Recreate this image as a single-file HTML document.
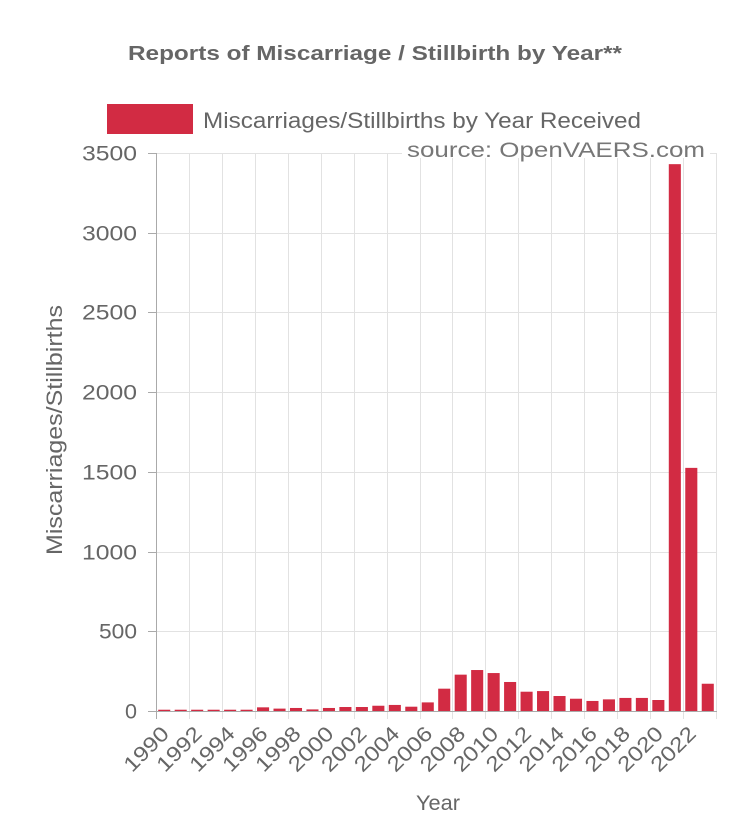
<!DOCTYPE html>
<html><head><style>
body{margin:0;background:#fff;}
svg text{font-family:"Liberation Sans",sans-serif;}
</style></head><body>
<svg width="750" height="825" xmlns="http://www.w3.org/2000/svg">
<text x="128" y="60" font-size="20" font-weight="bold" fill="#666" textLength="494" lengthAdjust="spacingAndGlyphs">Reports of Miscarriage / Stillbirth by Year**</text>
<rect x="107" y="104" width="86" height="30" fill="#d22b43"/>
<text x="203" y="128" font-size="22" fill="#666" textLength="438" lengthAdjust="spacingAndGlyphs">Miscarriages/Stillbirths by Year Received</text>
<g id="grid" stroke="#e2e2e2" stroke-width="1"></g>
<g id="bars" fill="#d22b43"></g>
<g id="yl" font-size="21" fill="#666" text-anchor="end"></g>
<g id="xl" font-size="21" fill="#666" text-anchor="end"></g>
<line x1="156.5" y1="153" x2="156.5" y2="719" stroke="#aaa"/>
<line x1="148" y1="711.5" x2="717" y2="711.5" stroke="#aaa"/>
<rect x="402" y="136" width="308" height="22" fill="#fff"/>
<text x="407" y="157" font-size="21" fill="#777" textLength="298" lengthAdjust="spacingAndGlyphs">source: OpenVAERS.com</text>
<text transform="translate(62,430) rotate(-90)" text-anchor="middle" font-size="22" fill="#666" textLength="250" lengthAdjust="spacingAndGlyphs">Miscarriages/Stillbirths</text>
<text x="438" y="810" text-anchor="middle" font-size="21" fill="#666" textLength="44" lengthAdjust="spacingAndGlyphs">Year</text>
</svg>
<script>
var vals=[8,8,8,8,8,8,23,15,19,10,19,25,25,33,38,27,54,140,228,257,238,182,121,125,94,77,63,73,82,82,69,3430,1525,171];
var ns="http://www.w3.org/2000/svg",x0=156,cw=(716-156)/34,y0=711,s=558/3500;
var g=document.getElementById("grid"),b=document.getElementById("bars"),yl=document.getElementById("yl"),xl=document.getElementById("xl");
function el(t,a,p){var e=document.createElementNS(ns,t);for(var k in a)e.setAttribute(k,a[k]);p.appendChild(e);return e;}
for(var v=0;v<=3500;v+=500){var y=Math.round(y0-v*s)+0.5;if(v>0)el("line",{x1:156,x2:717,y1:y,y2:y},g);el("line",{x1:148,x2:156,y1:y,y2:y,stroke:"#aaa"},g);var t=el("text",{x:137,y:y+7,textLength:(v<1000?(v==0?12:38):55),lengthAdjust:"spacingAndGlyphs"},yl);t.textContent=v;}
for(var i=0;i<=34;i+=2){var x=Math.round(x0+i*cw)+0.5;el("line",{x1:x,x2:x,y1:153,y2:719},g);}
for(var i=0;i<34;i++){var h=vals[i]*s;el("rect",{x:x0+i*cw+2.2,y:y0-h,width:cw-4.4,height:h},b);
if(i%2==0&&i<33){var cx=x0+i*cw+cw/2+6;var t=el("text",{transform:"translate("+cx+",735) rotate(-45)",textLength:54,lengthAdjust:"spacingAndGlyphs"},xl);t.textContent=1990+i;}}
</script>
</body></html>
